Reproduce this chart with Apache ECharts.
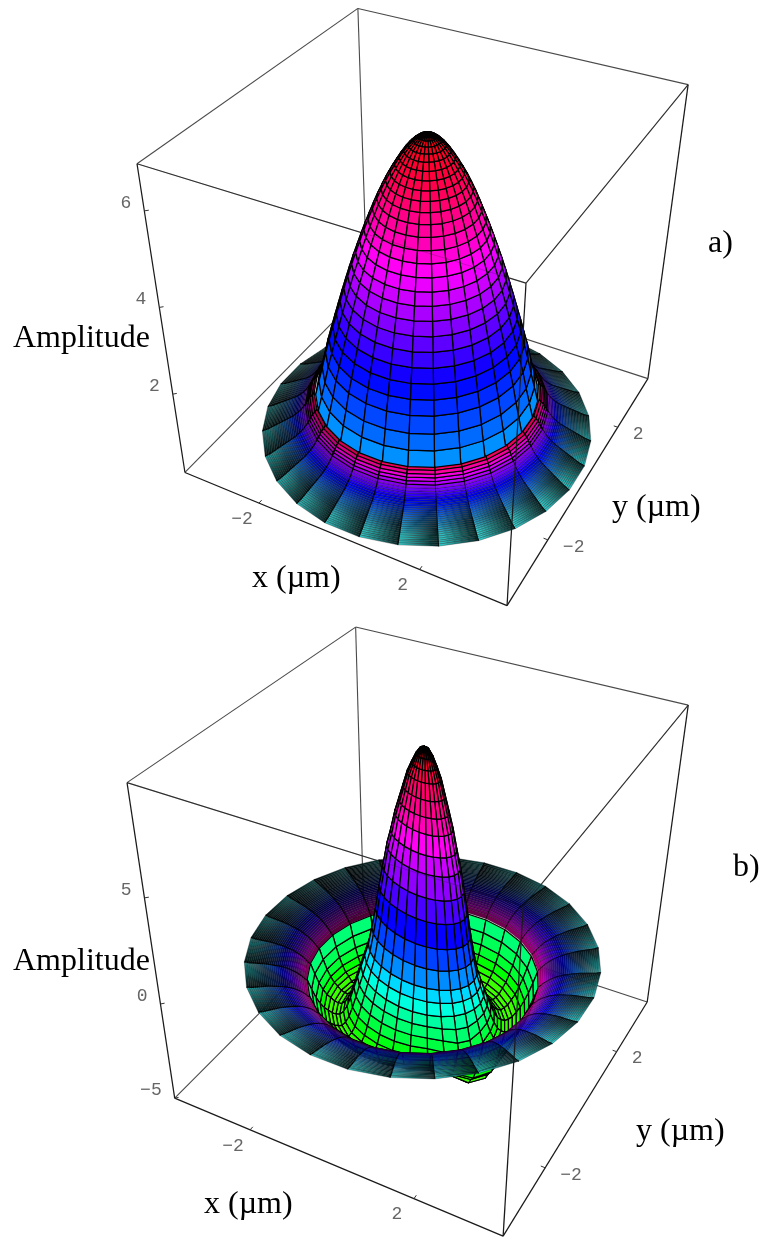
<!DOCTYPE html>
<html>
<head>
<meta charset="utf-8">
<style>html,body{margin:0;padding:0;background:#fff}#main{width:762px;height:1237px}</style>
<script src="https://cdn.jsdelivr.net/npm/echarts@6/dist/echarts.min.js"></script>
</head>
<body>
<div id="main"></div>
<script>
// axis range of the x and y axes (um), both panels
const halfSpan = 4;
const sectorCount = 28;
const sectorStart = -45; // degrees, a mesh line runs through the front corner

// panel a) inner peak, ring by ring
const ringRadiusA = [0,.094,.189,.283,.378,.472,.567,.661,.756,.85,.944,1.039,1.133,1.228,1.322,1.417,1.511,1.606,1.7,1.794,1.889,1.983,2.078,2.172,2.267,2.361,2.456,2.55];
const ringAmpA = [6.70,6.67,6.62,6.55,6.46,6.35,6.22,6.08,5.93,5.77,5.59,5.40,5.19,4.97,4.75,4.51,4.26,4.01,3.74,3.46,3.17,2.87,2.57,2.26,1.95,1.58,1.24,.90];
const ringHueA = [1,.995,.99,.985,.98,.97,.965,.955,.945,.935,.92,.905,.89,.87,.85,.83,.81,.79,.765,.74,.715,.69,.67,.65,.63,.61,.585,.56];
// panel a) outer flange
const wallRadiusA = [2.58,2.63,2.686,2.725,2.763,2.801,2.84,2.878,2.916,2.955,2.993,3.031,3.07,3.108,3.146,3.185,3.223,3.261,3.3,3.338,3.376,3.415,3.453,3.491,3.53,3.568,3.606,3.645,3.683,3.721,3.76,3.8,3.84];
const wallAmpA = [.95,.89,.84,.78,.72,.66,.61,.56,.52,.48,.45,.42,.39,.36,.34,.32,.30,.28,.26,.24,.22,.20,.18,.16,.14,.12,.10,.08,.06,.04,.03,.015,0];
const wallHueA = [.96,.92,.87,.83,.80,.77,.75,.73,.71,.69,.67,.66,.65,.64,.63,.62,.61,.60,.59,.58,.57,.56,.55,.54,.53,.52,.51,.50,.50,.50,.50,.50,.50];

// panel b) inner peak and bowl
const ringRadiusB = [0,.085,.17,.255,.34,.425,.51,.595,.68,.765,.85,.935,1.02,1.105,1.19,1.275,1.36,1.445,1.53,1.615,1.70,1.785,1.87,1.955,2.04,2.125,2.21,2.295,2.38,2.465,2.55];
const ringAmpB = [9.60,9.52,9.25,8.85,8.40,7.75,7.10,6.45,5.60,4.85,3.85,2.85,1.75,.80,-.05,-.60,-1.15,-1.60,-2.05,-2.45,-2.75,-2.90,-2.95,-2.90,-2.80,-2.65,-2.45,-2.20,-1.90,-1.50,-1.05];
const ringHueB = [1,.995,.98,.96,.94,.92,.90,.86,.82,.78,.74,.69,.65,.60,.55,.50,.46,.42,.39,.36,.33,.31,.30,.29,.29,.30,.32,.35,.38,.40,.42];
const ringTiltB = [0,.03,.07,.12,.18,.25,.32,.4,.48,.56,.62,.68,.72,.74,.75,.75,.74,.72,.68,.62,.55,.47,.44,.41,.38,.33,.27,.2,.14,.09,.05];
// panel b) extra depth of the bowl, by sector and by ring
const sectorDentB = [.35,1,1.15,.6,.3,.3,.3,.35,.4,.45,.5,.55,.6,.6,.6,.6,.6,.55,.5,.45,.4,.35,.3,.2,.15,.1,.05,.02];
const ringDentB = [0,0,0,0,0,0,0,0,0,0,0,0,0,0,0,0,0,.15,.3,.5,.7,.85,1,1,1,.85,.85,.7,.5,.25,0];
// panel b) outer flange
const wallRadiusB = [2.56,2.62,2.66,2.70,2.74,2.78,2.82,2.86,2.90,2.94,2.98,3.02,3.06,3.10,3.14,3.18,3.22,3.26,3.30,3.34,3.38,3.42,3.46,3.50,3.54,3.58,3.62,3.66,3.70,3.74,3.78,3.82,3.87];
const wallAmpB = [-1.03,-.90,-.81,-.73,-.66,-.60,-.54,-.49,-.44,-.40,-.36,-.33,-.30,-.27,-.24,-.22,-.20,-.18,-.16,-.14,-.12,-.10,-.09,-.08,-.07,-.06,-.05,-.04,-.03,-.02,-.01,.02,.04];
const wallHueB = [.90,.87,.84,.81,.79,.77,.75,.73,.71,.70,.69,.68,.67,.66,.65,.64,.63,.62,.61,.60,.59,.58,.57,.56,.55,.54,.53,.52,.51,.50,.50,.50,.50];

// tick labels
const amplitudeTicksA = [2, 4, 6];
const amplitudeTicksB = [-5, 0, 5];
const planeTicks = [-2, 2];

// box height per panel, and the fitted camera (unit cube to page)
const ampRangeA = [0, 6.9];
const ampRangeB = [-5, 9.8];
const cameraA = [[269.1568,255.4231,-70.8118,184.954],[69.8716,-127.7482,-336.0446,472.4846],[-.1044,.1995,-.1669,1]];
const cameraB = [[275.0524,266.2064,-68.7175,174.6855],[6.8407,3.3681,-445.2909,1098.1625],[-.1061,.2123,-.1658,1]];

function project(panel, x, y, z) {
  const u = (x + halfSpan) / (2 * halfSpan);
  const v = (y + halfSpan) / (2 * halfSpan);
  const w = (z - panel.range[0]) / (panel.range[1] - panel.range[0]);
  const c = panel.camera;
  const d = c[2][0] * u + c[2][1] * v + c[2][2] * w + c[2][3];
  return [(c[0][0] * u + c[0][1] * v + c[0][2] * w + c[0][3]) / d,
          (c[1][0] * u + c[1][1] * v + c[1][2] * w + c[1][3]) / d, d];
}

function hsv(h, s, v) {
  h = (h % 1) * 6;
  const i = Math.floor(h), f = h - i;
  v = Math.min(v, 1);
  const p = v * (1 - s), q = v * (1 - s * f), t = v * (1 - s * (1 - f));
  const rgb = [[v,t,p],[q,v,p],[p,v,t],[p,q,v],[t,p,v],[v,p,q]][i % 6];
  return 'rgb(' + rgb.map(function (c) { return Math.round(c * 255); }).join(',') + ')';
}

// one mesh cell per ring gap and sector, sorted far to near afterwards
// kind: 0 inner mesh, 1 flange with strong first rings, 2 flange with thin rings only
function addCells(cells, panel, radii, amps, hues, tilts, dents, kind) {
  const tiltDir = Math.PI / 4;
  for (let i = 0; i < radii.length - 1; i++) {
    for (let j = 0; j < sectorCount; j++) {
      const corner = function (k, s) {
        const t = (sectorStart + s * 360 / sectorCount) * Math.PI / 180;
        let dip = tilts ? tilts[k] * Math.cos(t - tiltDir) : 0;
        if (dents) dip += dents[k] * sectorDentB[s % sectorCount];
        return project(panel, radii[k] * Math.cos(t), radii[k] * Math.sin(t), amps[k] - dip);
      };
      const q = [corner(i, j), corner(i + 1, j), corner(i + 1, j + 1), corner(i, j + 1)];
      const mid = (sectorStart + (j + 0.5) * 360 / sectorCount) * Math.PI / 180;
      cells.push({
        depth: (q[0][2] + q[1][2] + q[2][2] + q[3][2]) / 4,
        value: [q[0][0],q[0][1],q[1][0],q[1][1],q[2][0],q[2][1],q[3][0],q[3][1],(hues[i] + hues[i + 1]) / 2,kind,i,Math.cos(mid + Math.PI / 4)]
      });
    }
  }
}

function surfaceSeries(panel) {
  const cells = [];
  addCells(cells, panel, panel.ringRadius, panel.ringAmp, panel.ringHue, panel.ringTilt, panel.ringDent, 0);
  addCells(cells, panel, panel.wallRadius, panel.wallAmp, panel.wallHue, null, null, panel.wallKind);
  cells.sort(function (a, b) { return b.depth - a.depth; });
  return {
    type: 'custom',
    coordinateSystem: 'cartesian2d',
    silent: true,
    clip: false,
    z: 3,
    encode: { x: [0, 2, 4, 6], y: [1, 3, 5, 7] },
    data: cells.map(function (c) { return c.value; }),
    renderItem: function (params, api) {
      const pts = [0, 2, 4, 6].map(function (k) { return api.coord([api.value(k), api.value(k + 1)]); });
      const hue = api.value(8), kind = api.value(9), ring = api.value(10), facing = api.value(11);
      if (!kind) {
        return { type: 'polygon', shape: { points: pts }, style: { fill: hsv(hue, 1, 1), stroke: '#000', lineWidth: 1.25, lineJoin: 'round' } };
      }
      // flange: fan shading across each sector, dense thin ring lines
      const light = 0.65 + 0.35 * facing;
      const sat = ring < 12 ? 1 : Math.max(0.75, 1 - (ring - 12) * 0.02);
      const val = ring < 8 ? 1 : Math.max(0.62, 1 - (ring - 8) * 0.03);
      const ax = (pts[0][0] + pts[1][0]) / 2, ay = (pts[0][1] + pts[1][1]) / 2;
      const bx = (pts[2][0] + pts[3][0]) / 2, by = (pts[2][1] + pts[3][1]) / 2;
      const fan = ring < 8 ? 0.95 : Math.max(0.25, 0.95 - (ring - 8) * 0.05);
      const brightEnd = ring < 8 ? 1 : 1.05 + Math.min(ring, 30) * 0.012;
      const fill = new echarts.graphic.LinearGradient(ax, ay, bx, by, [
        { offset: 0, color: hsv(hue, sat, val * light * brightEnd) },
        { offset: 1, color: hsv(hue, sat, val * light * fan) }
      ], true);
      const strong = kind === 1 && ring < 5;
      return {
        type: 'group',
        children: [
          { type: 'polygon', shape: { points: pts }, style: { fill: fill, stroke: strong ? '#000' : 'rgba(0,0,0,.5)', lineWidth: strong ? 1.1 : 0.6 } },
          { type: 'polyline', shape: { points: [pts[0], pts[1]] }, style: { fill: null, stroke: '#000', lineWidth: 1.1 } }
        ]
      };
    }
  };
}

function lineSeries(segments, color, width, opacity, z) {
  return {
    type: 'custom',
    coordinateSystem: 'cartesian2d',
    silent: true,
    clip: false,
    z: z,
    encode: { x: [0, 2], y: [1, 3] },
    data: segments,
    renderItem: function (params, api) {
      const a = api.coord([api.value(0), api.value(1)]);
      const b = api.coord([api.value(2), api.value(3)]);
      return { type: 'line', shape: { x1: a[0], y1: a[1], x2: b[0], y2: b[1] }, style: { stroke: color, lineWidth: width, opacity: opacity } };
    }
  };
}

function edge(panel, p, q) {
  const a = project(panel, p[0], p[1], p[2]);
  const b = project(panel, q[0], q[1], q[2]);
  return [a[0], a[1], b[0], b[1]];
}

function labelSeries(items) {
  return {
    type: 'custom',
    coordinateSystem: 'cartesian2d',
    silent: true,
    clip: false,
    z: 6,
    encode: { x: 0, y: 1 },
    data: items.map(function (t) { return [t.x, t.y]; }),
    renderItem: function (params, api) {
      const t = items[params.dataIndex];
      const c = api.coord([api.value(0), api.value(1)]);
      return {
        type: 'text',
        style: { x: c[0] + t.dx, y: c[1] + t.dy, text: t.text, align: t.align, verticalAlign: 'middle', fill: '#666', font: '18px "Liberation Mono"' }
      };
    }
  };
}

function tickText(v) { return v < 0 ? '\u2212' + Math.abs(v) : String(v); }

function panelSeries(panel) {
  const L = halfSpan, lo = panel.range[0], hi = panel.range[1];
  const back = [
    edge(panel, [-L, L, lo], [-L, L, hi]),
    edge(panel, [-L, L, hi], [-L, -L, hi]),
    edge(panel, [-L, L, hi], [L, L, hi]),
    edge(panel, [-L, L, lo], [-L, -L, lo]),
    edge(panel, [-L, L, lo], [L, L, lo])
  ];
  const hiddenFront = [
    edge(panel, [-L, -L, hi], [L, -L, hi]),
    edge(panel, [L, -L, hi], [L, L, hi])
  ];
  const front = [
    edge(panel, [-L, -L, lo], [-L, -L, hi]),
    edge(panel, [L, L, lo], [L, L, hi]),
    edge(panel, [L, -L, lo], [L, -L, hi]),
    edge(panel, [-L, -L, lo], [L, -L, lo]),
    edge(panel, [L, -L, lo], [L, L, lo])
  ];
  const ticks = [], labels = [];
  panel.ampTicks.forEach(function (v) {
    ticks.push(edge(panel, [-L, -L, v], [-L + 0.06, -L + 0.06, v]));
    const p = project(panel, -L, -L, v);
    labels.push({ x: p[0], y: p[1], dx: -13, dy: -8, text: tickText(v), align: 'right' });
  });
  planeTicks.forEach(function (v) {
    ticks.push(edge(panel, [v, -L, lo], [v, -L + 0.1, lo]));
    const p = project(panel, v, -L, lo);
    labels.push({ x: p[0], y: p[1], dx: -17, dy: 16, text: tickText(v), align: 'center' });
  });
  planeTicks.forEach(function (v) {
    ticks.push(edge(panel, [L, v, lo], [L - 0.1, v, lo]));
    const p = project(panel, L, v, lo);
    labels.push({ x: p[0], y: p[1], dx: 15, dy: 7, text: tickText(v), align: 'left' });
  });
  return [
    lineSeries(back, '#4a4a4a', 1.1, 1, 1),
    lineSeries(hiddenFront, '#333', 1.1, 1, 2),
    surfaceSeries(panel),
    lineSeries(hiddenFront, '#222', 1, 0.22, 4),
    lineSeries(front, '#1a1a1a', 1.25, 1, 4),
    lineSeries(ticks, '#333', 1, 1, 4),
    labelSeries(labels)
  ];
}

const panelA = {
  camera: cameraA, range: ampRangeA, ampTicks: amplitudeTicksA,
  ringRadius: ringRadiusA, ringAmp: ringAmpA, ringHue: ringHueA, ringTilt: null, ringDent: null,
  wallRadius: wallRadiusA, wallAmp: wallAmpA, wallHue: wallHueA, wallKind: 1
};
const panelB = {
  camera: cameraB, range: ampRangeB, ampTicks: amplitudeTicksB,
  ringRadius: ringRadiusB, ringAmp: ringAmpB, ringHue: ringHueB, ringTilt: ringTiltB, ringDent: ringDentB,
  wallRadius: wallRadiusB, wallAmp: wallAmpB, wallHue: wallHueB, wallKind: 2
};

function caption(text, x, y) {
  return { type: 'text', x: x, y: y, silent: true, z: 10, style: { text: text, fill: '#000', font: '32px "Liberation Serif"', verticalAlign: 'middle' } };
}

const chart = echarts.init(document.getElementById('main'), null, { renderer: 'canvas' });
chart.setOption({
  animation: false,
  backgroundColor: '#fff',
  grid: { left: 0, right: 0, top: 0, bottom: 0 },
  xAxis: { type: 'value', min: 0, max: 762, show: false },
  yAxis: { type: 'value', min: 0, max: 1237, inverse: true, show: false },
  series: panelSeries(panelA).concat(panelSeries(panelB)),
  graphic: [
    caption('Amplitude', 13, 339),
    caption('x (\u00b5m)', 252, 579),
    caption('y (\u00b5m)', 612, 508),
    caption('a)', 708, 244),
    caption('Amplitude', 13, 962),
    caption('x (\u00b5m)', 204, 1205),
    caption('y (\u00b5m)', 636, 1132),
    caption('b)', 733, 868)
  ]
});
</script>
</body>
</html>
